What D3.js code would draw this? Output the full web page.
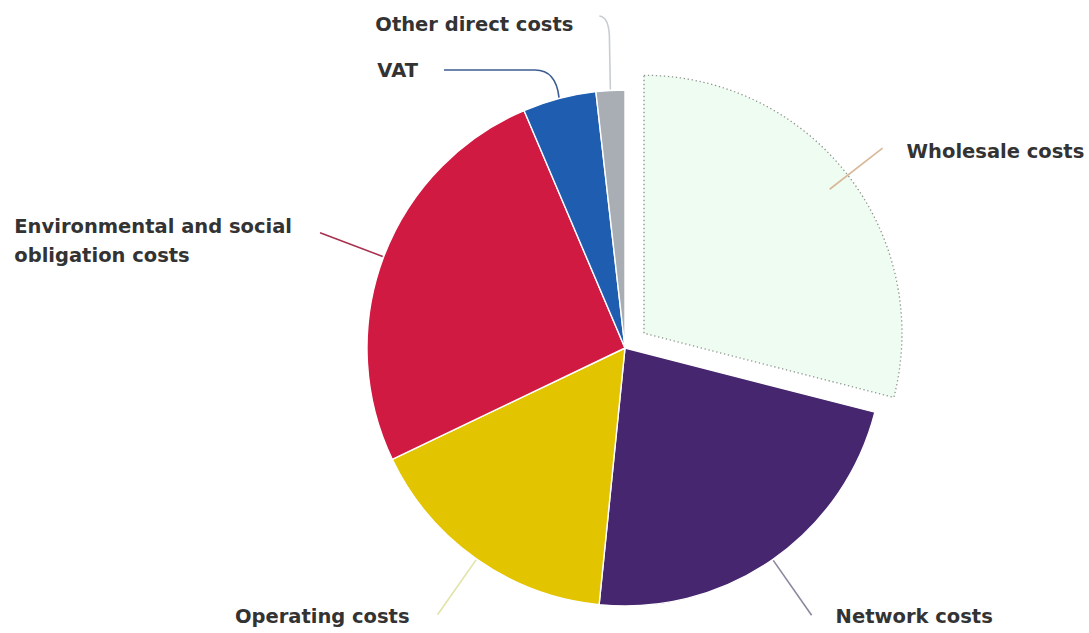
<!DOCTYPE html>
<html>
<head>
<meta charset="utf-8">
<script src="https://cdn.jsdelivr.net/npm/d3@7/dist/d3.min.js"></script>
<style>
  html, body { margin: 0; padding: 0; background: #ffffff; }
  svg { display: block; }
  .label { font-family: "DejaVu Sans", sans-serif; font-weight: 700; font-size: 19.5px; fill: #333333; }
</style>
</head>
<body>
<svg id="chart" width="1089" height="633"></svg>
<script>
// Breakdown of a retail energy bill, shares in percent
const categories = [
  "Wholesale costs",
  "Network costs",
  "Operating costs",
  "Environmental and social obligation costs",
  "VAT",
  "Other direct costs"
];
const shares = [29.0, 22.6, 16.3, 25.7, 4.6, 1.8];
const labelLines = [
  ["Wholesale costs"],
  ["Network costs"],
  ["Operating costs"],
  ["Environmental and social", "obligation costs"],
  ["VAT"],
  ["Other direct costs"]
];
const explodedSlices = ["Wholesale costs"];

const fills   = ["#effcf1", "#45266f", "#e2c400", "#d11a42", "#1f5db1", "#a8aeb3"];
const leaders = ["#d8b898", "#8c879e", "#e3e2a8", "#a8304f", "#3d5d92", "#c9cdd1"];

const svg = d3.select("#chart");
const cx = 625, cy = 348, R = 258, explodeBy = 24;

const data = categories.map((c, i) => ({ name: c, value: shares[i], i }));
const pie = d3.pie().value(d => d.value).sort(null).startAngle(0).endAngle(2 * Math.PI);
const arcs = pie(data);
const arc = d3.arc().innerRadius(0).outerRadius(R);

const polar = (a, r) => [Math.sin(a) * r, -Math.cos(a) * r];

const g = svg.append("g").attr("transform", `translate(${cx},${cy})`);

// slices
arcs.forEach(a => {
  const mid = (a.startAngle + a.endAngle) / 2;
  const isOut = explodedSlices.includes(a.data.name);
  const off = isOut ? polar(mid, explodeBy) : [0, 0];
  const p = g.append("path")
    .attr("transform", `translate(${off[0]},${off[1]})`)
    .attr("d", arc(a))
    .attr("fill", fills[a.data.i]);
  if (isOut) {
    p.attr("stroke", "#8e948f").attr("stroke-width", 1.3).attr("stroke-dasharray", "1.3,2.7");
  } else {
    p.attr("stroke", "#ffffff").attr("stroke-width", 1.4).attr("stroke-linejoin", "round");
  }
});

// leader lines, starting from the slice's resting edge
const lineGen = d3.line();
const labelAt = [];
arcs.forEach(a => {
  const mid = (a.startAngle + a.endAngle) / 2;
  const i = a.data.i;
  const s = polar(mid, R + 1);
  let d;
  if (i === 4) {
    // VAT: short rise then a horizontal run to the left
    const yTop = -R - 20;
    d = `M${s[0]},${s[1]} Q${s[0] - 3},${yTop} ${s[0] - 24},${yTop} L${s[0] - 115},${yTop}`;
    labelAt[i] = [s[0] - 115 - 26, yTop, "end"];
  } else if (i === 5) {
    // Other direct costs: nearly vertical rise, bending left at the top
    const yTop = -R - 73;
    d = `M${s[0]},${s[1]} L${s[0] - 1},${yTop + 18} Q${s[0] - 2},${yTop} ${s[0] - 11},${yTop - 1}`;
    labelAt[i] = [s[0] - 11 - 26, yTop + 7, "end"];
  } else {
    const e = polar(mid, R + 68);
    d = lineGen([s, e]);
    const right = Math.sin(mid) > 0;
    labelAt[i] = [e[0] + (right ? 24 : -28), e[1] + (i === 3 ? 8 : (i === 0 ? 3 : 1)), right ? "start" : "end"];
  }
  g.append("path")
    .attr("d", d)
    .attr("fill", "none")
    .attr("stroke", leaders[i])
    .attr("stroke-width", 1.6);
});

// labels; multi-line labels are left-aligned as a block
arcs.forEach(a => {
  const i = a.data.i;
  const [x, y, anchor] = labelAt[i];
  const lines = labelLines[i];
  const t = g.append("text")
    .attr("class", "label")
    .attr("transform", `translate(${x},${y})`);
  lines.forEach((ln, k) => {
    t.append("tspan")
      .attr("x", 0)
      .attr("y", (k - (lines.length - 1) / 2) * 29)
      .attr("dy", "0.35em")
      .text(ln);
  });
  if (anchor === "end") {
    const w = d3.max(t.selectAll("tspan").nodes(), n => n.getComputedTextLength());
    t.attr("transform", `translate(${x - w},${y})`);
  }
});
</script>
</body>
</html>
